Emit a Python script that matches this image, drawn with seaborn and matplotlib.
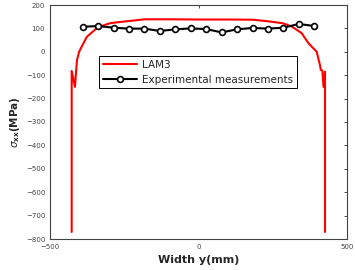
import matplotlib
matplotlib.use("Agg")
import matplotlib.pyplot as plt
import seaborn as sns
import pandas as pd

# LAM3 model curve
lam_x = [-427, -427, -416, -412, -409, -402, -390, -376, -356, -343, -320, -298, -281,
         -180, -100, 0, 100, 184, 230, 284, 314, 347, 370, 398, 409, 412, 417, 421, 426, 426]
lam_y = [-770, -82, -150, -80, -35, 0, 30, 64, 86, 101, 113, 122, 125,
         139, 139, 138, 138, 137, 131, 122, 108, 80, 37, 0, -57, -78, -80, -150, -85, -770]

# Experimental measurements
exp_x = [-390, -338, -286, -234, -182, -130, -78, -26, 26, 78, 130, 182, 234, 286, 338, 390]
exp_y = [107, 110, 103, 99, 99, 89, 96, 100, 97, 83, 96, 102, 99, 103, 119, 110]

x_ticks = [-500, 0, 500]
y_ticks = list(range(-800, 201, 100))

sns.set_style("white")
plt.rcParams['font.family'] = ['DejaVu Sans']

fig = plt.figure(figsize=(3.55, 2.7), dpi=100)
ax = fig.add_axes([50/355, 1 - 239/270, 297/355, 234/270])

df_lam = pd.DataFrame({"x": lam_x, "y": lam_y})
df_exp = pd.DataFrame({"x": exp_x, "y": exp_y})

sns.lineplot(data=df_lam, x="x", y="y", sort=False, color="#ff0000", lw=1.5,
             ax=ax, label="LAM3", estimator=None)
sns.lineplot(data=df_exp, x="x", y="y", sort=False, color="black", lw=1.5,
             marker="o", markersize=4.2, markerfacecolor="white", markeredgecolor="black",
             markeredgewidth=1.2, ax=ax, label="Experimental measurements", estimator=None)

ax.set_xlim(-500, 500)
ax.set_ylim(-800, 200)
ax.set_xticks(x_ticks)
ax.set_yticks(y_ticks)
ax.tick_params(direction="in", length=2.5, width=0.6, labelsize=5, colors="#333333",
               top=True, right=True, labelcolor="#444444")
for s in ax.spines.values():
    s.set_color("#444444")
    s.set_linewidth(0.8)

ax.set_xlabel("Width y(mm)", fontsize=8, fontweight="bold", labelpad=4)
ax.set_ylabel(r"$\sigma_{\mathbf{xx}}$(MPa)", fontsize=7.5, fontweight="bold", labelpad=3)

leg = ax.legend(loc="upper left", bbox_to_anchor=(0.165, 0.78), fontsize=7.5,
                frameon=True, fancybox=False, framealpha=1, edgecolor="black",
                borderpad=0.35, handlelength=3.3, labelspacing=0.45, handletextpad=0.5,
                borderaxespad=0)
leg.get_frame().set_linewidth(0.7)

fig.savefig("out.png", dpi=100)
